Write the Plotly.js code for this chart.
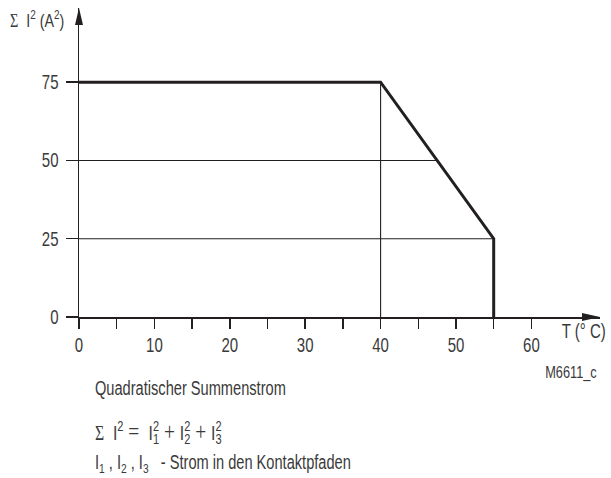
<!DOCTYPE html>
<html>
<head>
<meta charset="utf-8">
<script src="https://cdn.plot.ly/plotly-3.0.1.min.js"></script>
<style>
  html, body { margin: 0; padding: 0; background: #fff; }
  #chart { width: 611px; height: 478px; }
</style>
</head>
<body>
<div id="chart"></div>
<script>
// Derating curve: permissible sum of squared currents vs. ambient temperature
const temperature = [0, 40, 55, 55];        // T (°C)
const sumSquares  = [75, 75, 25, 0];        // Σ I² (A²)

// Reference levels drawn as thin guide lines up to the curve
const guideLevels = [50, 25];               // horizontal guides (A²)
const guideTemps  = [40];                   // vertical guides (°C)

const yTickVals = [0, 25, 50, 75];
const xTickVals = [0, 10, 20, 30, 40, 50, 60];
const xMinorVals = [5, 15, 25, 35, 45, 55];

// Axis extents (arrow tips)
const xMax = 69.1;
const yMax = 98.7;

const FONT = '"Liberation Sans", Arial, sans-serif';
const SERIF = 'Liberation Serif';
const INK = '#231f20';
const TEXT = '#3a3a3a';
const CONDENSE = 0.75;   // horizontal squeeze for a condensed typeface look
const NB = '\u00a0';     // non-collapsing space

// Temperature where the falling curve reaches a given level
function curveTempAt(level) {
  for (let i = 0; i < temperature.length - 1; i++) {
    const y0 = sumSquares[i], y1 = sumSquares[i + 1];
    const x0 = temperature[i], x1 = temperature[i + 1];
    if (y0 === y1) continue;
    if ((level <= y0 && level >= y1) || (level >= y0 && level <= y1)) {
      return x0 + (level - y0) * (x1 - x0) / (y1 - y0);
    }
  }
  return temperature[temperature.length - 1];
}
function curveLevelAt(t) {
  for (let i = 0; i < temperature.length - 1; i++) {
    const x0 = temperature[i], x1 = temperature[i + 1];
    if (t >= x0 && t <= x1) {
      if (x0 === x1) return sumSquares[i];
      return sumSquares[i] + (t - x0) * (sumSquares[i + 1] - sumSquares[i]) / (x1 - x0);
    }
  }
  return 0;
}

const traces = [];

guideLevels.forEach(level => {
  traces.push({
    x: [0, curveTempAt(level)], y: [level, level],
    mode: 'lines', line: { color: INK, width: 1.1 },
    hoverinfo: 'skip', showlegend: false, cliponaxis: false
  });
});
guideTemps.forEach(t => {
  traces.push({
    x: [t, t], y: [0, curveLevelAt(t)],
    mode: 'lines', line: { color: INK, width: 1.1 },
    hoverinfo: 'skip', showlegend: false, cliponaxis: false
  });
});

traces.push({
  x: temperature, y: sumSquares,
  mode: 'lines', line: { color: INK, width: 3 },
  showlegend: false, cliponaxis: false
});

// pixel helpers for paper-positioned text
const L = 79, R = 11, T = 8, B = 161;
const W = 611, H = 478;
const pw = W - L - R, ph = H - T - B;
const px = v => (v - L) / pw;
const py = v => (H - B - v) / ph;

const serif = (s, size) => `<span style="font-family:${SERIF}${size ? ';font-size:' + size + 'px' : ''}">${s}</span>`;
const sigma = serif('Σ');
const op = s => serif(NB + s + NB, 26);

const formula = `${sigma}${NB}${NB}I<sup>2</sup>${op('=')}${NB}I<sub>1</sub><sup>2</sup>${op('+')}I<sub>2</sub><sup>2</sup>${op('+')}I<sub>3</sub><sup>2</sup>`;

const annotations = [
  { text: `${sigma}${NB} I<sup>2</sup> (A<sup>2</sup>)`, x: px(8), y: py(19), xanchor: 'left', align: 'left', font: { size: 19 } },
  { text: 'T (° C)', x: px(608), y: py(331), xanchor: 'right', align: 'right', font: { size: 20 } },
  { text: 'M6611_c', x: px(599), y: py(372), xanchor: 'right', align: 'right', font: { size: 17 } },
  { text: 'Quadratischer Summenstrom', x: px(93), y: py(388), xanchor: 'left', align: 'left', font: { size: 19.5 } },
  { text: formula, x: px(93), y: py(432), xanchor: 'left', align: 'left', font: { size: 21 } },
  { text: `I<sub>1</sub> , I<sub>2</sub> , I<sub>3</sub>${NB}${NB} - Strom in den Kontaktpfaden`, x: px(93), y: py(463), xanchor: 'left', align: 'left', font: { size: 19.5 } }
].map(a => Object.assign({ xref: 'paper', yref: 'paper', showarrow: false, yanchor: 'middle' }, a));

// Arrowheads at the axis ends
const shapes = [
  { type: 'path', xref: 'paper', yref: 'paper', xsizemode: 'pixel', ysizemode: 'pixel',
    xanchor: 1, yanchor: 0, path: 'M0,0 L-18,4 L-18,-4 Z', fillcolor: INK, line: { width: 0 } },
  { type: 'path', xref: 'paper', yref: 'paper', xsizemode: 'pixel', ysizemode: 'pixel',
    xanchor: 0, yanchor: 1, path: 'M0,0 L-4,-17 L4,-17 Z', fillcolor: INK, line: { width: 0 } }
];

const tickFont = { size: 20, family: FONT, color: TEXT };

const layout = {
  width: W, height: H,
  margin: { l: L, r: R, t: T, b: B, pad: 0 },
  paper_bgcolor: '#fff', plot_bgcolor: '#fff',
  font: { family: FONT, color: TEXT, size: 20 },
  showlegend: false,
  xaxis: {
    range: [0, xMax], showgrid: false, zeroline: false,
    showline: true, linecolor: INK, linewidth: 1.5,
    tickmode: 'array', tickvals: xTickVals,
    ticks: 'outside', ticklen: 10, tickwidth: 1.5, tickcolor: INK,
    minor: { tickmode: 'array', tickvals: xMinorVals, ticks: 'outside', ticklen: 10, tickwidth: 1.5, tickcolor: INK },
    tickfont: tickFont,
    fixedrange: true
  },
  yaxis: {
    range: [0, yMax], showgrid: false, zeroline: false,
    showline: true, linecolor: INK, linewidth: 1.5,
    tickmode: 'array', tickvals: yTickVals,
    ticks: 'outside', ticklen: 12, tickwidth: 1.5, tickcolor: INK,
    tickfont: tickFont,
    ticklabelstandoff: 3,
    fixedrange: true
  },
  annotations: annotations,
  shapes: shapes
};

// Stack a superscript directly above the preceding subscript (I₁² style)
function stackScripts(root) {
  root.querySelectorAll('text').forEach(t => {
    const spans = Array.from(t.querySelectorAll('tspan'));
    spans.forEach((s, i) => {
      if (s.getAttribute('dy') !== '-0.6em') return;
      const sub = spans[i - 2];
      if (sub && sub.getAttribute('dy') === '0.3em') {
        s.setAttribute('dx', -sub.getComputedTextLength());
      }
    });
  });
}

// Squeeze every label horizontally about its anchor point
function condense(root, f) {
  root.querySelectorAll('text').forEach(t => {
    const x = parseFloat(t.getAttribute('x')) || 0;
    const prev = t.getAttribute('transform') || '';
    t.setAttribute('transform', `${prev} translate(${x},0) scale(${f},1) translate(${-x},0)`.trim());
  });
}

Plotly.newPlot('chart', traces, layout, { displayModeBar: false, staticPlot: true }).then(gd => {
  stackScripts(gd);
  condense(gd, CONDENSE);
});
</script>
</body>
</html>
